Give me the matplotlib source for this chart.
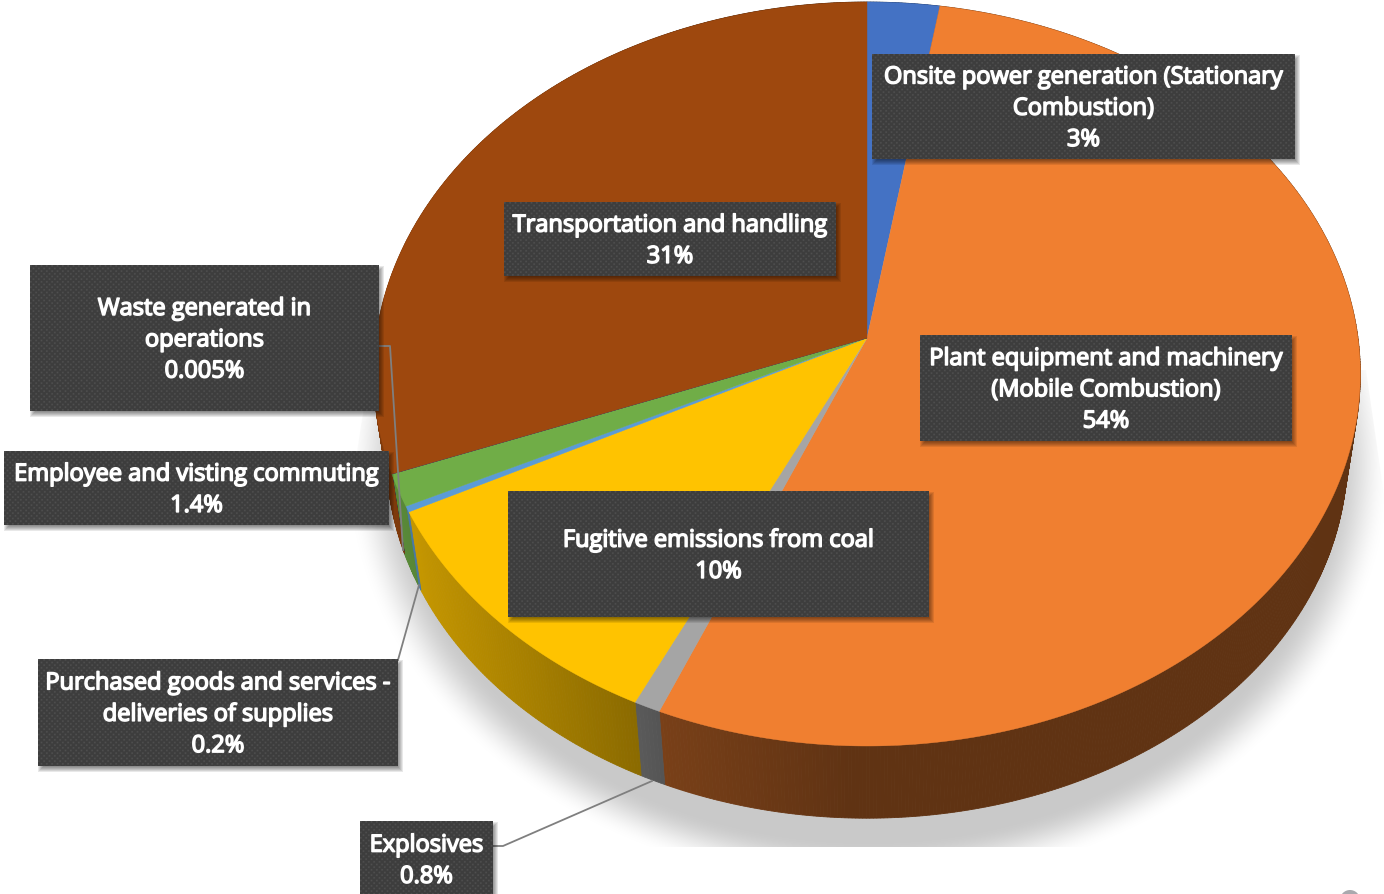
#!/usr/bin/env python3
import numpy as np
import matplotlib
matplotlib.use('Agg')
import matplotlib.pyplot as plt
import matplotlib.patheffects as pe
from matplotlib.colors import to_rgb
from matplotlib.patches import Rectangle, Circle, Polygon

# slice sizes as measured on the picture, in drawing order (clockwise from top)
categories = ['Onsite power generation (Stationary\nCombustion)',
              'Plant equipment and machinery\n(Mobile Combustion)',
              'Explosives',
              'Fugitive emissions from coal',
              'Purchased goods and services -\ndeliveries of supplies',
              'Employee and visting commuting',
              'Waste generated in\noperations',
              'Transportation and handling']
values = [2.6, 53.7, 0.8, 10.45, 0.25, 1.4, 0.005, 30.8]
value_labels = ['3%', '54%', '0.8%', '10%', '0.2%', '1.4%', '0.005%', '31%']
colors = ['#4472C4', '#F07F30', '#A5A5A5', '#FFC300', '#5B9BD5', '#70AD47', '#264478', '#9E480E']

# label boxes x0, y0, x1, y1 in pixels
boxes = [(872, 54, 1295, 159), (920, 335, 1292, 441), (360, 821, 493, 900),
         (508, 491, 929, 617), (38, 659, 398, 766), (4, 451, 389, 525),
         (30, 265, 379, 411), (504, 202, 836, 276)]

W, H = 1384, 894
APEX_X, APEX_Y = 867, 338
A, B, K = 491, 368.5, 0.0968   # perspective of the disc
S = 0.9735                     # lower rim scale
LOW_APEX_Y = 421

plt.rcParams['text.hinting'] = 'no_hinting'


def top_rim(theta):
    u, v = np.sin(theta), np.cos(theta)
    d = 1 + K * v
    return APEX_X + A * u / d, APEX_Y - B * v / d


def low_rim(theta):
    x, y = top_rim(theta)
    return APEX_X + S * (x - APEX_X), LOW_APEX_Y + S * (y - APEX_Y)


def wall_shade(x):
    return np.interp(x, [390, 420, 640, 665, 850], [0.8, 0.76, 0.54, 0.5, 0.4])


fig = plt.figure(figsize=(W / 100, H / 100), dpi=100)
ax = fig.add_axes([0, 0, 1, 1])

# soft shadow under the pie
xx, yy = np.meshgrid(np.arange(W), np.arange(H))
r = np.hypot((xx - 868) / 522, (yy - 465) / 422)
alpha = np.clip((1.0 - r) / 0.11, 0, 1)
alpha = alpha * alpha * (3 - 2 * alpha)
shadow = np.zeros((H, W, 4))
shadow[..., :3] = 0.79
shadow[..., 3] = alpha
im = ax.imshow(shadow, extent=(0, W, H, 0), aspect='auto', zorder=1, interpolation='bilinear')
clip = Polygon([(365, 400), (338, 575), (338, 847), (1384, 847), (1384, 495), (1366, 370)],
               transform=ax.transData, fill=False, lw=0)
ax.add_patch(clip)
im.set_clip_path(clip)

# side wall and top of every slice
fractions = np.array(values) / sum(values)
edges = np.concatenate([[0], np.cumsum(fractions)]) * 2 * np.pi
for i, col in enumerate(colors):
    n = max(2, int((edges[i + 1] - edges[i]) * 150))
    th = np.linspace(edges[i], edges[i + 1], n)
    rgb = np.array(to_rgb(col))
    for t0, t1 in zip(th[:-1], th[1:]):
        x0, y0 = top_rim(t0)
        x1, y1 = top_rim(t1)
        x2, y2 = low_rim(t1)
        x3, y3 = low_rim(t0)
        c = rgb * wall_shade((x0 + x1) / 2)
        ax.fill([x0, x1, x2, x3], [y0, y1, y2, y3], color=c, lw=0.6, zorder=2)
for i, col in enumerate(colors):
    th = np.linspace(edges[i], edges[i + 1], max(2, int((edges[i + 1] - edges[i]) * 150)))
    x, y = top_rim(th)
    ax.fill(np.r_[APEX_X, x], np.r_[APEX_Y, y], color=col, lw=0.3, zorder=3)

# leader lines
leader = dict(color='#7F7F7F', lw=1.3, zorder=4)
ax.plot([379, 390, 403], [346, 346, 550], **leader)
ax.plot([398, 419], [660, 585], **leader)
ax.plot([493, 503, 652], [846, 846, 781], **leader)

# label boxes
for box, cat, val in zip(boxes, categories, value_labels):
    x0, y0, x1, y1 = box
    for grow in range(6):
        ax.add_patch(Rectangle((x0 + grow, y0 + 1 + grow), x1 - x0 + 5 - 2 * grow, y1 - y0 + 5 - 2 * grow,
                               fc='black', ec='none', alpha=0.09, zorder=5))
    w, h = x1 - x0, y1 - y0
    px, py = np.meshgrid(np.arange(w * 3), np.arange(h * 3))
    dots = ((px % 16 < 5) & (py % 16 < 5)) | (((px + 8) % 16 < 5) & ((py + 8) % 16 < 5))
    tile = np.where(dots[..., None], [0.31, 0.31, 0.31], [0.24, 0.24, 0.24])
    ax.imshow(tile, extent=(x0, x1, y1, y0), aspect='auto', zorder=6, interpolation='antialiased')
    cy = (y0 + y1) / 2 + 2 if y1 <= H else 861
    txt = ax.text((x0 + x1) / 2, cy, cat + '\n' + val, color='white', ha='center', va='center',
                  fontsize=17.0, family='Open Sans', linespacing=1.4, zorder=7)
    # the font comes in regular only here, a thin stroke gives the semibold look
    txt.set_path_effects([pe.withStroke(linewidth=1.1, foreground='white')])

# bit of the scroll marker at the bottom edge
ax.add_patch(Circle((1350, 900), 10, fc='#A9A9AE', ec='none', zorder=8))

ax.set_xlim(0, W)
ax.set_ylim(H, 0)
ax.axis('off')
fig.savefig('out.png', dpi=100)
